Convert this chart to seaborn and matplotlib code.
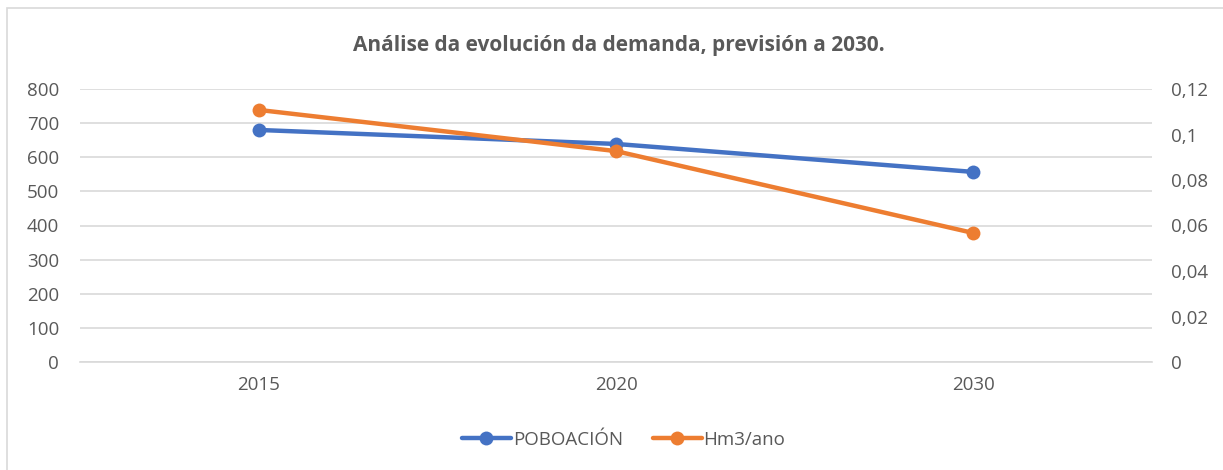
import matplotlib.pyplot as plt
import matplotlib.patches as mpatches
import seaborn as sns
import pandas as pd

anos = ['2015', '2020', '2030']
poboacion = [680, 639, 557]
hm3_ano = [0.1108, 0.0927, 0.0567]

titulo = 'Análise da evolución da demanda, previsión a 2030.'
esq_ticks = [0, 100, 200, 300, 400, 500, 600, 700, 800]
der_ticks = [0, 0.02, 0.04, 0.06, 0.08, 0.1, 0.12]

azul = '#4472C4'
laranxa = '#ED7D31'
gris = '#595959'

sns.set_style('white')
plt.rcParams['font.family'] = ['Open Sans', 'DejaVu Sans']

df = pd.DataFrame({'ano': anos, 'pob': poboacion, 'hm3': hm3_ano})

fig = plt.figure(figsize=(12.23, 4.70), dpi=100)
ax = fig.add_axes([80 / 1223, 1 - 362 / 470, 1072 / 1223, 273 / 470])
ax2 = ax.twinx()

sns.lineplot(data=df, x='ano', y='pob', ax=ax, color=azul, lw=3.2,
             marker='o', markersize=10, markeredgewidth=0, sort=False, zorder=3)
sns.lineplot(data=df, x='ano', y='hm3', ax=ax2, color=laranxa, lw=3.2,
             marker='o', markersize=10, markeredgewidth=0, sort=False, zorder=3)

ax.set_xlim(-0.5, 2.5)
ax.set_ylim(0, 800)
ax2.set_ylim(0, 0.12)
ax.set_yticks(esq_ticks)
ax2.set_yticks(der_ticks)
ax2.set_yticklabels([('%g' % v).replace('.', ',') for v in der_ticks])

for a in (ax, ax2):
    for s in a.spines.values():
        s.set_visible(False)
    a.set_xlabel('')
    a.set_ylabel('')
    a.tick_params(length=0, labelsize=13.5, labelcolor=gris)
ax.tick_params(axis='y', pad=15)
ax2.tick_params(axis='y', pad=14)
ax.tick_params(axis='x', pad=10)

ax.yaxis.grid(True, color='#D9D9D9', lw=1.2)
ax.set_axisbelow(True)
ax.spines['bottom'].set_visible(True)
ax.spines['bottom'].set_color('#D9D9D9')
ax.spines['bottom'].set_linewidth(1.2)

fig.text(619 / 1223, 1 - 45 / 470, titulo, ha='center', va='center',
         fontsize=15, fontweight='bold', color=gris)

handles = [plt.Line2D([], [], color=azul, lw=3.2, marker='o', markersize=10, markeredgewidth=0),
           plt.Line2D([], [], color=laranxa, lw=3.2, marker='o', markersize=10, markeredgewidth=0)]
fig.legend(handles, ['POBOACIÓN', 'Hm3/ano'], loc='center', bbox_to_anchor=(0.51, 1 - 440 / 470),
           ncol=2, frameon=False, fontsize=13.5, labelcolor=gris, handlelength=2.6,
           handletextpad=0.1, columnspacing=1.6)

fig.patches.append(mpatches.Rectangle((7 / 1223, -0.1), 1.2, 1 - 8 / 470 + 0.1,
                                      transform=fig.transFigure, fill=False,
                                      edgecolor='#D9D9D9', lw=1.2))

fig.savefig('out.png', dpi=100)
